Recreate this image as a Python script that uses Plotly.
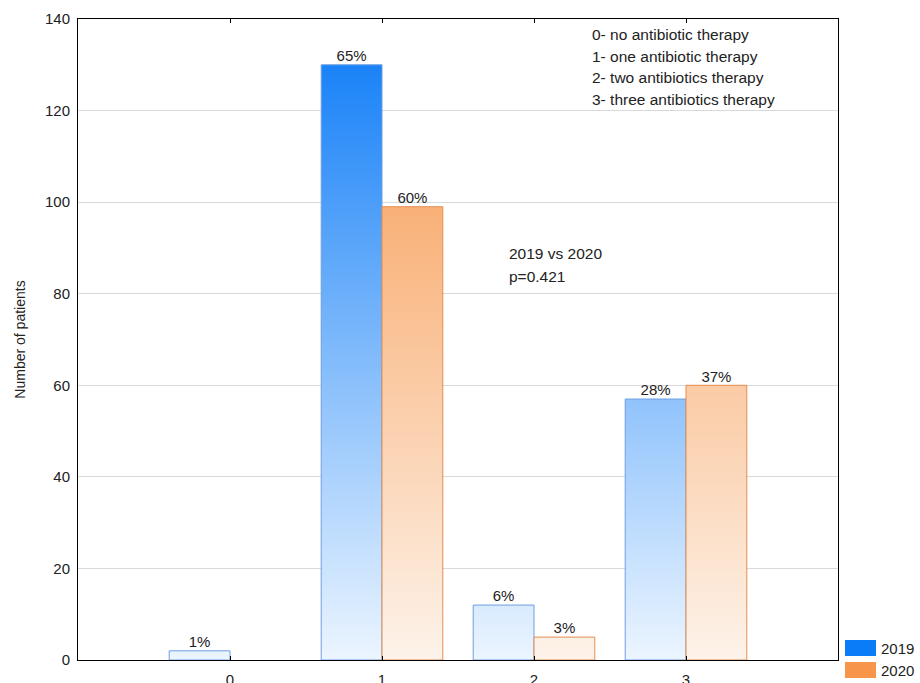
import plotly.graph_objects as go

# Number of antibiotic therapies per patient
categories = [0, 1, 2, 3]
tick_labels = ["0", "1", "2", "3"]
patients_2019 = [2, 130, 12, 57]
patients_2020 = [0, 99, 5, 60]
pct_2019 = ["1%", "65%", "6%", "28%"]
pct_2020 = ["", "60%", "3%", "37%"]

series = [
    dict(name="2019", values=patients_2019, labels=pct_2019, side=-1,
         scale=[[0, "#ecf5ff"], [1, "#0a7af7"]], line="#6e9fe0", key="#0a7cf7"),
    dict(name="2020", values=patients_2020, labels=pct_2020, side=1,
         scale=[[0, "#fdf3ea"], [1, "#f79548"]], line="#e38d4f", key="#f7964a"),
]

BAR_W = 0.4          # width of one bar in category units
GRAD_TOP = 140       # value where the gradient reaches full colour
FONT = "Liberation Sans, Arial, sans-serif"
TXT = "#222222"

# plot-area geometry in pixels, used to place notes and the key
L, R, T, B = 78, 838, 19, 660


def px(x):
    return (x - L) / (R - L)


def py(y):
    return (B - y) / (B - T)


fig = go.Figure()

for s in series:
    for cat, val in zip(categories, s["values"]):
        if val <= 0:
            continue
        xl = cat if s["side"] > 0 else cat - BAR_W
        xr = cat + BAR_W if s["side"] > 0 else cat
        fig.add_trace(go.Scatter(
            x=[xl, xr, xr, xl, xl], y=[0, 0, val, val, 0],
            mode="lines", fill="toself",
            line=dict(color=s["line"], width=1),
            fillgradient=dict(type="vertical", colorscale=s["scale"],
                              start=0, stop=GRAD_TOP),
            showlegend=False, hoverinfo="skip",
        ))
    # percentage labels above each bar
    xs = [c + s["side"] * BAR_W / 2 for c in categories]
    fig.add_trace(go.Scatter(
        x=xs, y=s["values"], text=s["labels"], mode="text",
        textposition="top center",
        textfont=dict(family=FONT, size=15, color=TXT),
        showlegend=False, hoverinfo="skip",
    ))

# Definitions of the categories and the test result
notes = ["0- no antibiotic therapy", "1- one antibiotic therapy",
         "2- two antibiotics therapy", "3- three antibiotics therapy"]
annotations = []
for i, t in enumerate(notes):
    annotations.append(dict(
        xref="paper", yref="paper", x=px(590), y=py(34 + 22 * i),
        xanchor="left", yanchor="middle", text=t, showarrow=False,
        font=dict(family=FONT, size=15.5, color=TXT)))
for i, t in enumerate(["2019 vs 2020", "p=0.421"]):
    annotations.append(dict(
        xref="paper", yref="paper", x=px(507), y=py(254 + 22 * i),
        xanchor="left", yanchor="middle", text=t, showarrow=False,
        font=dict(family=FONT, size=15.5, color=TXT)))

# Key drawn beside the lower right corner of the plot
shapes = []
for i, s in enumerate(series):
    top = 640 + 22 * i
    shapes.append(dict(type="rect", xref="paper", yref="paper",
                       x0=px(845), x1=px(876), y0=py(top + 16), y1=py(top),
                       fillcolor=s["key"], line=dict(width=0)))
    annotations.append(dict(
        xref="paper", yref="paper", x=px(879), y=py(top + 8),
        xanchor="left", yanchor="middle", text=s["name"], showarrow=False,
        font=dict(family=FONT, size=15, color=TXT)))

fig.update_layout(
    width=920, height=683,
    margin=dict(l=L, r=920 - R, t=T, b=683 - B),
    paper_bgcolor="white", plot_bgcolor="white",
    font=dict(family=FONT, size=15, color=TXT),
    showlegend=False,
    annotations=annotations, shapes=shapes,
    xaxis=dict(range=[-1, 4], tickvals=categories, ticktext=tick_labels,
               showgrid=False, zeroline=False, showline=True, linecolor="black",
               linewidth=1, mirror="ticks", ticks="inside", ticklen=4,
               tickcolor="black", tickfont=dict(size=15), automargin=False,
               ticklabelstandoff=6),
    yaxis=dict(range=[0, 140], dtick=20, showgrid=True, gridcolor="#d9d9d9",
               gridwidth=1, zeroline=False, showline=True, linecolor="black",
               linewidth=1, mirror=True, ticks="", tickfont=dict(size=15),
               automargin=False, ticklabelstandoff=4,
               title=dict(text="Number of patients", font=dict(size=14),
                          standoff=16)),
)

fig.write_html("out.html")
